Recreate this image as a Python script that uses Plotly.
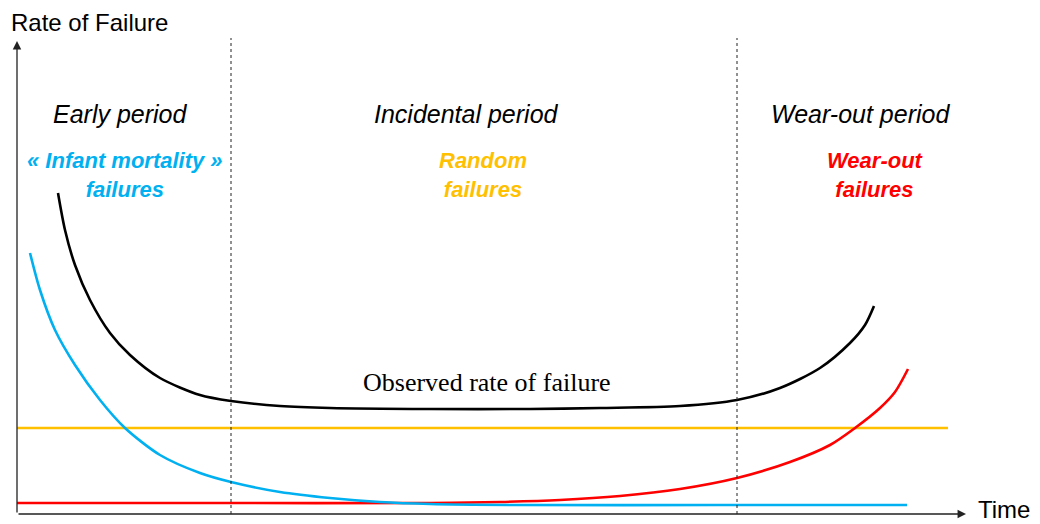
import plotly.graph_objects as go

# ---- data (time units from origin, rate units from baseline) ----
observed_t = [41, 48, 58, 73, 93, 113, 143, 183, 214, 263, 313, 413, 513, 583, 663, 720, 763, 803, 833, 848, 857]
observed_r = [321, 284, 249, 214, 181, 159, 136, 119, 113, 108, 106, 105, 105, 106, 108, 114, 126, 146, 171, 189, 208]

infant_t = [13, 23, 38, 58, 83, 108, 143, 183, 214, 263, 313, 363, 413, 500, 700, 890]
infant_r = [261, 224, 184, 149, 114, 86, 59, 41, 32, 22, 16, 12, 10, 9, 9, 9]

random_t = [0, 931]
random_r = [86, 86]

wearout_t = [0, 200, 413, 483, 543, 603, 663, 720, 773, 813, 838, 863, 878, 891]
wearout_r = [11, 11, 11, 12, 14, 18, 25, 36, 52, 69, 86, 106, 122, 145]

period_bounds = [214, 720]
period_labels = ["Early period", "Incidental period", "Wear-out period"]
period_centers = [103, 449, 843]

failure_labels = ["« Infant mortality »<br>failures", "Random<br>failures", "Wear-out<br>failures"]
failure_centers = [108, 466, 858]

BLUE = "#00B0F0"
YELLOW = "#FFC000"
RED = "#FF0000"

fig = go.Figure()
fig.add_trace(go.Scatter(x=random_t, y=random_r, mode="lines", line=dict(color=YELLOW, width=2.5)))
fig.add_trace(go.Scatter(x=wearout_t, y=wearout_r, mode="lines", line=dict(color=RED, width=2.6, shape="spline", smoothing=0.8)))
fig.add_trace(go.Scatter(x=infant_t, y=infant_r, mode="lines", line=dict(color=BLUE, width=2.6, shape="spline", smoothing=0.8)))
fig.add_trace(go.Scatter(x=observed_t, y=observed_r, mode="lines", line=dict(color="black", width=2.6, shape="spline", smoothing=0.8)))

# period boundaries
for b in period_bounds:
    fig.add_shape(type="line", x0=b, x1=b, y0=0, y1=476, xref="x", yref="y",
                  line=dict(color="#222222", width=1, dash="3px,3px"))

# axes arrows
fig.add_annotation(x=0, y=473, ax=0, ay=0, xref="x", yref="y", axref="x", ayref="y",
                   showarrow=True, arrowhead=2, arrowsize=1.3, arrowwidth=1.3, arrowcolor="#222222", text="")
fig.add_annotation(x=949, y=0, ax=0, ay=0, xref="x", yref="y", axref="x", ayref="y",
                   showarrow=True, arrowhead=2, arrowsize=1.3, arrowwidth=1.3, arrowcolor="#222222", text="")

fig.add_annotation(x=-8, y=492, xref="x", yref="y", text="Rate of Failure", showarrow=False,
                   xanchor="left", yanchor="middle", font=dict(family="Liberation Sans, Arial", size=24, color="black"))
fig.add_annotation(x=960, y=-10, xref="x", yref="y", text="Time", showarrow=False, borderpad=0,
                   xanchor="left", yanchor="bottom", font=dict(family="Liberation Sans, Arial", size=24, color="black"))

for c, lab in zip(period_centers, period_labels):
    fig.add_annotation(x=c, y=400, xref="x", yref="y", text="<i>" + lab + "</i>", showarrow=False,
                       xanchor="center", yanchor="middle", font=dict(family="Liberation Sans, Arial", size=25, color="black"))

for c, lab, col in zip(failure_centers, failure_labels, [BLUE, YELLOW, RED]):
    fig.add_annotation(x=c, y=339, xref="x", yref="y", text="<b><i>" + lab + "</i></b>", showarrow=False,
                       xanchor="center", yanchor="middle", align="center",
                       font=dict(family="Liberation Sans, Arial", size=22, color=col))

fig.add_annotation(x=470, y=132, xref="x", yref="y", text="Observed rate of failure", showarrow=False,
                   xanchor="center", yanchor="middle",
                   font=dict(family="Liberation Serif, Times New Roman", size=26, color="black"))

# the page body adds an 8px margin; the figure is sized to fit the window after it
fig.update_xaxes(range=[-9, 1023], visible=False, fixedrange=True)
fig.update_yaxes(range=[-10, 506], visible=False, fixedrange=True)
fig.update_layout(width=1032, height=516, margin=dict(l=0, r=0, t=0, b=0),
                  plot_bgcolor="white", paper_bgcolor="white", showlegend=False)

fig.write_html("out.html")
